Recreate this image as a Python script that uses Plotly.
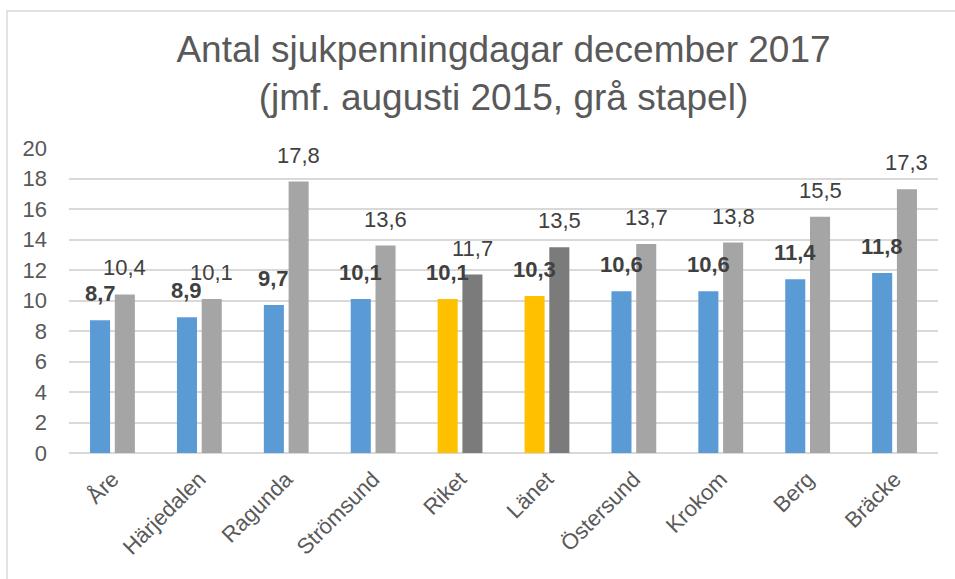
import plotly.graph_objects as go

categories = ["Åre", "Härjedalen", "Ragunda", "Strömsund", "Riket", "Länet",
              "Östersund", "Krokom", "Berg", "Bräcke"]
dec_2017 = [8.7, 8.9, 9.7, 10.1, 10.1, 10.3, 10.6, 10.6, 11.4, 11.8]
aug_2015 = [10.4, 10.1, 17.8, 13.6, 11.7, 13.5, 13.7, 13.8, 15.5, 17.3]
highlight = ["Riket", "Länet"]
y_ticks = list(range(0, 21, 2))

BLUE, GRAY, YELLOW, DARKGRAY = "#5B9BD5", "#A5A5A5", "#FFC000", "#7B7B7B"
FONT = "Liberation Sans, Arial, sans-serif"

W, H = 955, 579
ML, MR, MT, MB = 69, 17, 148, 126
BARGAP = 0.43
cat_px = (W - ML - MR) / len(categories)
off_px = (1 - BARGAP) / 4 * cat_px


def fmt(v):
    return f"{v:.1f}".replace(".", ",")


c1 = [YELLOW if c in highlight else BLUE for c in categories]
c2 = [DARKGRAY if c in highlight else GRAY for c in categories]

fig = go.Figure()
fig.add_trace(go.Bar(x=categories, y=dec_2017, marker_color=c1, marker_line_width=0,
                     name="december 2017"))
fig.add_trace(go.Bar(x=categories, y=aug_2015, marker_color=c2, marker_line_width=0,
                     name="augusti 2015"))

annotations = []
for c, v in zip(categories, dec_2017):
    annotations.append(dict(x=c, y=v, text=f"<b>{fmt(v)}</b>", showarrow=False,
                            xshift=-off_px, yshift=12, yanchor="bottom",
                            font=dict(family=FONT, size=22, color="#404040")))
for c, v in zip(categories, aug_2015):
    annotations.append(dict(x=c, y=v, text=fmt(v), showarrow=False,
                            xshift=off_px, yshift=12, yanchor="bottom",
                            font=dict(family=FONT, size=22, color="#404040")))

pw = W - ML - MR
ph = H - MT - MB
frame = dict(type="rect", xref="paper", yref="paper",
             x0=(7 - ML) / pw, x1=(W + 20 - ML) / pw,
             y0=-(H + 20 - MT - ph) / ph, y1=(H - MB - 11) / ph,
             line=dict(color="#D9D9D9", width=1.5), fillcolor="rgba(0,0,0,0)",
             layer="below")

fig.update_layout(
    width=W, height=H,
    margin=dict(l=ML, r=MR, t=MT, b=MB, pad=0),
    paper_bgcolor="white", plot_bgcolor="white",
    showlegend=False,
    barmode="group", bargap=BARGAP, bargroupgap=0.19,
    title=dict(text="Antal sjukpenningdagar december 2017<br>(jmf. augusti 2015, grå stapel)",
               x=0.5, xref="paper", xanchor="center", y=1 - 62 / H, yanchor="top",
               font=dict(family=FONT, size=37, color="#595959")),
    font=dict(family=FONT, color="#595959"),
    xaxis=dict(tickangle=-45, tickfont=dict(family=FONT, size=22, color="#595959"),
               showgrid=False, showline=False, ticks="", automargin=False,
               ticklabelstandoff=8),
    yaxis=dict(range=[0, 20], tickvals=y_ticks, tickfont=dict(family=FONT, size=22, color="#595959"),
               showgrid=True, gridcolor="#D9D9D9", gridwidth=1.5,
               zeroline=True, zerolinecolor="#D9D9D9", zerolinewidth=2,
               showline=False, ticks="", ticklabelstandoff=21, automargin=False),
    annotations=annotations,
    shapes=[frame],
)

fig.write_html("out.html", config={"displayModeBar": False},
               post_script="document.body.style.margin='0';document.body.style.overflow='hidden';")
